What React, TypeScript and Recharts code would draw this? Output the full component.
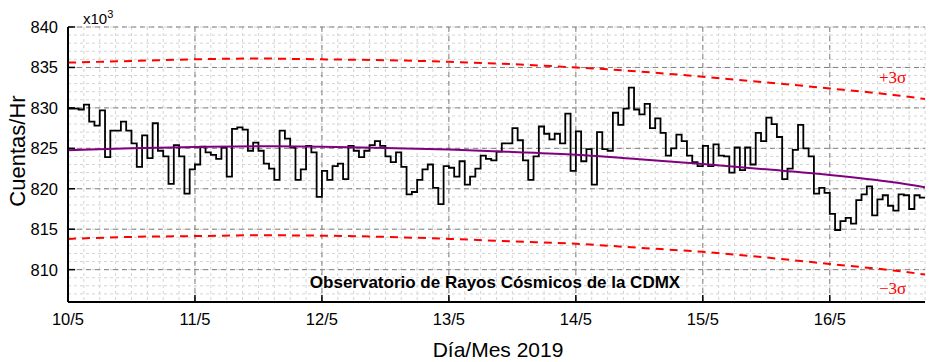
import { LineChart, Line, XAxis, YAxis, CartesianGrid } from 'recharts'

const dayTicks = [0, 24, 48, 72, 96, 120, 144]
const dayLabels = ['10/5', '11/5', '12/5', '13/5', '14/5', '15/5', '16/5']
const yTicks = [810, 815, 820, 825, 830, 835, 840]

// hourly counts (x10^3), starting 10/5 00:00
const counts = [
  829.9, 829.9, 829.8, 830.4, 828.3, 827.8, 829.7, 823.9, 827.2, 827.2, 828.3, 827.2, 825.6, 822.7, 826.6, 823.8,
  828.1, 824.7, 824.0, 820.6, 825.4, 824.0, 819.4, 822.4, 823.0, 825.2, 824.5,
  824.2, 823.7, 825.1, 821.5, 827.4, 827.6, 827.3, 824.7, 825.7, 824.7, 823.1, 822.5, 821.1, 827.2, 826.2,
  825.1, 821.1, 822.4, 825.3, 824.5, 819.0, 822.2, 821.1, 822.8, 823.1, 821.2,
  825.3, 824.7, 823.9, 824.7, 825.4, 825.9, 825.3, 824.0, 823.3, 824.5, 822.7, 819.3, 819.6, 821.1, 822.4,
  823.0, 820.1, 818.1, 822.8, 822.6, 821.5, 823.4, 820.5, 821.5, 822.5, 824.1, 823.7,
  823.5, 824.6, 825.6, 825.6, 827.5, 826.0, 823.5, 821.1, 824.0, 827.7, 826.8, 826.1, 826.8, 825.6, 829.3,
  822.2, 827.1, 823.4, 824.9, 820.5, 827.0, 824.9, 824.7, 829.4, 827.9, 829.9, 832.5,
  829.8, 829.2, 830.5, 827.5, 828.7, 826.9, 824.1, 825.0, 826.7, 825.9, 824.1, 823.3, 822.8, 825.3, 822.8,
  825.5, 824.1, 824.0, 822.0, 825.1, 822.3, 825.1, 823.0, 826.9, 825.9, 828.8, 828.0, 826.4, 821.2, 822.5,
  824.8, 827.9, 825.0, 824.0,
  819.4, 820.1, 819.5, 816.9, 814.9, 816.0, 816.4, 815.7, 818.6, 819.3, 820.3, 816.7, 818.7, 819.2, 817.9,
  817.3, 819.3, 819.2, 817.5, 819.2, 818.9,
]

// fitted trend and +/-3 sigma bands, read every 12 h
const curveHours = [0, 12, 24, 36, 48, 60, 72, 84, 96, 108, 120, 132, 144, 156, 162]
const fitValues = [824.75, 825.0, 825.15, 825.25, 825.2, 825.05, 824.85, 824.55, 824.2, 823.65, 823.05, 822.4, 821.7, 820.8, 820.2]
const upperValues = [835.6, 835.8, 836.0, 836.1, 836.0, 835.9, 835.7, 835.4, 835.0, 834.5, 833.85, 833.15, 832.4, 831.6, 831.1]
const lowerValues = [813.8, 814.05, 814.15, 814.25, 814.2, 814.05, 813.8, 813.5, 813.2, 812.7, 812.2, 811.5, 810.7, 809.9, 809.4]

const minorHours = Array.from({ length: 55 }, (_, i) => i * 3)
const minorCounts = Array.from({ length: 35 }, (_, i) => 806 + i)

const stepData = [
  ...counts.map((v, i) => ({ hour: i, count: v })),
  { hour: counts.length, count: counts[counts.length - 1] },
]
const fitData = curveHours.map((h, i) => ({ hour: h, value: fitValues[i] }))
const upperData = curveHours.map((h, i) => ({ hour: h, value: upperValues[i] }))
const lowerData = curveHours.map((h, i) => ({ hour: h, value: lowerValues[i] }))

const font = '"Liberation Sans", Arial, sans-serif'
const serif = '"Liberation Serif", "Times New Roman", serif'
const X_DOMAIN: [number, number] = [0, 162]
const Y_DOMAIN: [number, number] = [806, 840]
const axisStroke = { stroke: '#000', strokeWidth: 2 }
const majorTick = { stroke: '#000', strokeWidth: 1.5 }
const minorTick = { stroke: '#000', strokeWidth: 1 }

const App = () => {
  return (
    <div style={{ position: 'relative', width: 927, height: 354, fontFamily: font }}>
      <LineChart
        width={927}
        height={354}
        data={stepData}
        margin={{ top: 19, right: 10, bottom: 0, left: 0 }}>
        {/* minor tick axes first so they sit on the frame */}
        <XAxis xAxisId='minB' type='number' dataKey='hour' domain={X_DOMAIN} ticks={minorHours} interval={0}
          tick={false} tickSize={-4} tickLine={minorTick} axisLine={false} height={0} allowDataOverflow />
        <XAxis xAxisId='minT' orientation='top' type='number' dataKey='hour' domain={X_DOMAIN} ticks={minorHours} interval={0}
          tick={false} tickSize={-4} tickLine={minorTick} axisLine={false} height={0} allowDataOverflow />
        <YAxis yAxisId='minL' type='number' domain={Y_DOMAIN} ticks={minorCounts} interval={0}
          tick={false} tickSize={-4} tickLine={minorTick} axisLine={false} width={0} allowDataOverflow />
        <YAxis yAxisId='minR' orientation='right' type='number' domain={Y_DOMAIN} ticks={minorCounts} interval={0}
          tick={false} tickSize={-4} tickLine={minorTick} axisLine={false} width={0} allowDataOverflow />

        <XAxis
          type='number'
          dataKey='hour'
          domain={X_DOMAIN}
          ticks={dayTicks}
          interval={0}
          tickFormatter={(h: number) => dayLabels[dayTicks.indexOf(h)]}
          tickSize={-7}
          tickMargin={18}
          tickLine={majorTick}
          axisLine={axisStroke}
          tick={{ fill: '#000', fontSize: 16.5, fontFamily: font }}
          height={60}
          allowDataOverflow
        />
        <XAxis xAxisId='top' orientation='top' type='number' dataKey='hour' domain={X_DOMAIN} ticks={dayTicks} interval={0}
          tick={false} tickSize={-7} tickLine={majorTick} axisLine={axisStroke} height={0} allowDataOverflow />
        <YAxis
          type='number'
          domain={Y_DOMAIN}
          ticks={yTicks}
          interval={0}
          tickSize={-7}
          tickMargin={17}
          tickLine={majorTick}
          axisLine={axisStroke}
          tick={{ fill: '#000', fontSize: 16.5, fontFamily: font }}
          width={60}
          allowDataOverflow
        />
        <YAxis yAxisId='right' orientation='right' type='number' domain={Y_DOMAIN} ticks={yTicks} interval={0}
          tick={false} tickSize={-7} tickLine={majorTick} axisLine={axisStroke} width={0} allowDataOverflow />

        <CartesianGrid
          horizontalValues={minorCounts}
          verticalValues={minorHours}
          stroke='#d4d4d4'
          strokeDasharray='3 3'
        />
        <CartesianGrid
          horizontalValues={yTicks}
          verticalValues={dayTicks}
          stroke='#808080'
          strokeDasharray='5 4'
        />

        <Line data={upperData} dataKey='value' type='monotone' stroke='#ff0000' strokeWidth={2}
          strokeDasharray='8 6' dot={false} isAnimationActive={false} />
        <Line data={lowerData} dataKey='value' type='monotone' stroke='#ff0000' strokeWidth={2}
          strokeDasharray='8 6' dot={false} isAnimationActive={false} />
        <Line dataKey='count' type='stepAfter' stroke='#000' strokeWidth={1.8} dot={false} isAnimationActive={false} />
        <Line data={fitData} dataKey='value' type='monotone' stroke='#800080' strokeWidth={2}
          dot={false} isAnimationActive={false} />
      </LineChart>

      <div style={{ position: 'absolute', left: 75, top: 0, fontSize: 15, color: '#000' }}>
        x10<span style={{ fontSize: 11, verticalAlign: 6 }}>3</span>
      </div>
      <div style={{ position: 'absolute', left: 10, top: 143, transform: 'translate(-50%, -50%) rotate(-90deg)',
        fontSize: 22, whiteSpace: 'nowrap' }}>
        Cuentas/Hr
      </div>
      <div style={{ position: 'absolute', left: 490, top: 342, transform: 'translate(-50%, -50%)',
        fontSize: 21, whiteSpace: 'nowrap' }}>
        Día/Mes 2019
      </div>
      <div style={{ position: 'absolute', left: 487, top: 275, transform: 'translate(-50%, -50%)',
        fontSize: 17, fontWeight: 'bold', whiteSpace: 'nowrap' }}>
        Observatorio de Rayos Cósmicos de la CDMX
      </div>
      <div style={{ position: 'absolute', left: 871, top: 60, fontSize: 17, color: '#ff0000', fontFamily: serif }}>
        +3σ
      </div>
      <div style={{ position: 'absolute', left: 871, top: 271, fontSize: 17, color: '#ff0000', fontFamily: serif }}>
        −3σ
      </div>
    </div>
  )
}

export default App
